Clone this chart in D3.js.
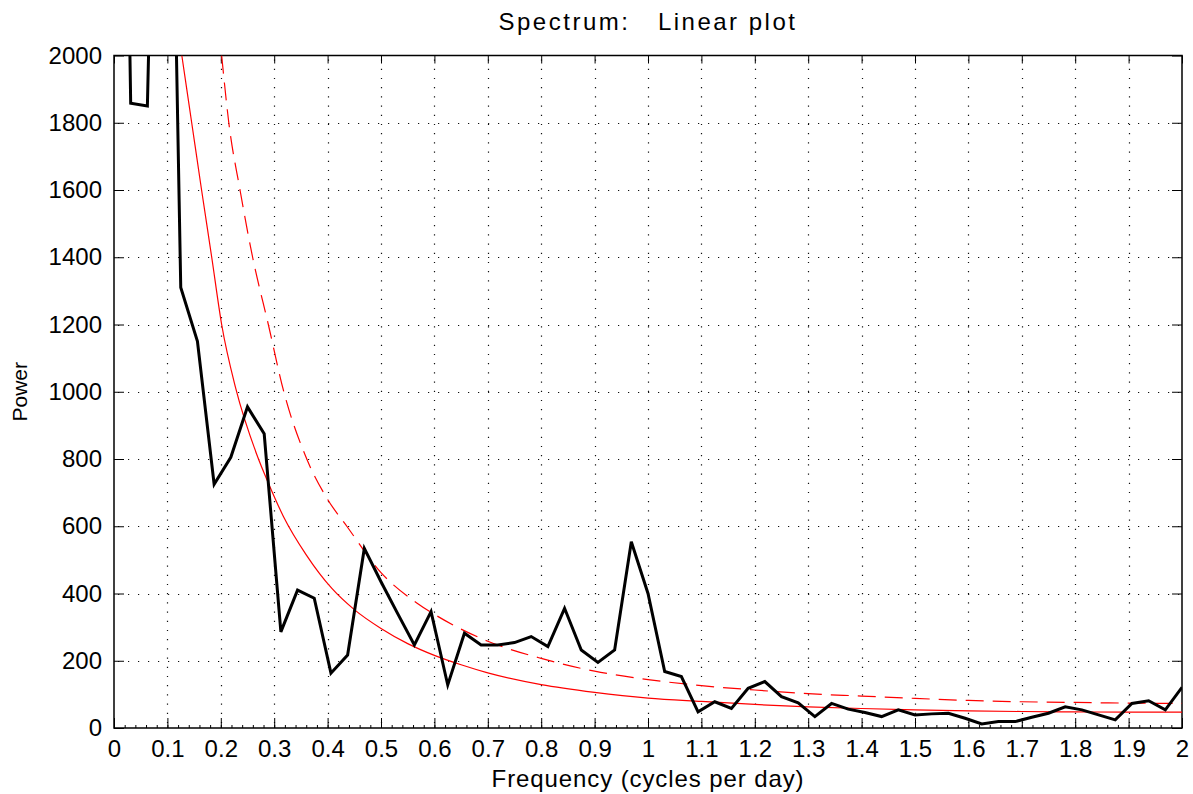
<!DOCTYPE html>
<html>
<head>
<meta charset="utf-8">
<script src="https://cdn.jsdelivr.net/npm/d3@7"></script>
<style>
  body { margin: 0; background: #fff; }
  text { font-family: "Liberation Sans", Arial, sans-serif; fill: #000; }
</style>
</head>
<body>
<svg id="chart" width="1193" height="794"></svg>
<script>
// spectrum estimate, one value per frequency bin (resolution 1/32 cycles per day)
const binWidth = 1 / 32;
const power = [5000, 1858, 1850, 4000, 1310, 1150, 725, 805, 955, 875,
  286, 410, 386, 163, 217, 534, 435, 340, 247, 346,
  128, 282, 247, 247, 254, 272, 242, 356, 232, 195,
  232, 554, 400, 168, 153, 48, 78, 58, 118, 138,
  93, 75, 34, 73, 56, 46, 34, 54, 39, 42,
  44, 29, 12, 19, 19, 32, 44, 63, 54, 39,
  24, 73, 81, 54, 121];
const freq = power.map((d, i) => i * binWidth);

// red-noise background (solid)
const fitFreq = [0.127, 0.1455, 0.164, 0.183, 0.2016, 0.228, 0.267, 0.29, 0.317, 0.36,
  0.408, 0.45, 0.5, 0.55, 0.6, 0.65, 0.7, 0.8, 0.9, 1.0,
  1.1, 1.2, 1.3, 1.4, 1.5, 1.6, 1.7, 1.8, 1.9, 2.0];
const fitPower = [2000, 1800, 1600, 1400, 1200, 1010, 815, 725, 630, 515,
  415, 352, 296, 251, 216, 188, 164, 129, 106, 89,
  79, 70, 63, 58, 54, 51, 49, 48, 47, 47];

// confidence level (dashed)
const confFreq = [0.2016, 0.215, 0.236, 0.2596, 0.289, 0.318, 0.361, 0.4, 0.436, 0.5,
  0.567, 0.6, 0.65, 0.7, 0.8, 0.9, 1.0, 1.1, 1.2, 1.3,
  1.4, 1.5, 1.6, 1.7, 1.8, 1.9, 2.0];
const confPower = [2000, 1800, 1600, 1400, 1200, 1000, 800, 680, 600, 462,
  372, 338, 294, 258, 207, 169, 144, 126, 113, 102,
  95, 88, 82, 78, 76, 74, 73];

const xTicks = [0, 0.1, 0.2, 0.3, 0.4, 0.5, 0.6, 0.7, 0.8, 0.9, 1, 1.1, 1.2, 1.3, 1.4, 1.5, 1.6, 1.7, 1.8, 1.9, 2];
const xTickLabels = ["0", "0.1", "0.2", "0.3", "0.4", "0.5", "0.6", "0.7", "0.8", "0.9", "1",
  "1.1", "1.2", "1.3", "1.4", "1.5", "1.6", "1.7", "1.8", "1.9", "2"];
const yTicks = [0, 200, 400, 600, 800, 1000, 1200, 1400, 1600, 1800, 2000];

const pLeft = 114, pRight = 1182, pTop = 55.5, pBottom = 728;

const svg = d3.select('#chart');

let x = d3.scaleLinear().domain([0, 2]).range([pLeft, pRight]);
let y = d3.scaleLinear().domain([0, 2000]).range([pBottom, pTop]);

svg.append('defs').append('clipPath').attr('id', 'plotclip')
  .append('rect')
  .attr('x', pLeft).attr('y', pTop)
  .attr('width', pRight - pLeft).attr('height', pBottom - pTop);

// dotted grid
const grid = svg.append('g').attr('stroke', '#111').attr('stroke-width', 1.2);
grid.selectAll('line.vx')
  .data(xTicks.slice(1, -1))
  .enter().append('line')
  .attr('class', 'vx')
  .attr('x1', d => Math.round(x(d)) + 0.5).attr('x2', d => Math.round(x(d)) + 0.5)
  .attr('y1', pTop + 4).attr('y2', pBottom)
  .attr('stroke-dasharray', '1.2,8');
grid.selectAll('line.hy')
  .data(yTicks.slice(1, -1))
  .enter().append('line')
  .attr('class', 'hy')
  .attr('y1', d => Math.round(y(d)) + 0.5).attr('y2', d => Math.round(y(d)) + 0.5)
  .attr('x1', pLeft + 4).attr('x2', pRight)
  .attr('stroke-dasharray', '1.2,8.8');

// axes (ticks pointing inward)
const xAxis = d3.axisBottom(x).tickValues(xTicks)
  .tickFormat((d, i) => xTickLabels[i]).tickSizeInner(-10).tickSizeOuter(0).tickPadding(12);
svg.append('g').attr('transform', `translate(0,${pBottom})`).call(xAxis);

const xMinor = d3.axisBottom(x).tickValues(d3.range(0, 101).map(i => i * 0.02))
  .tickFormat('').tickSizeInner(-3).tickSizeOuter(0);
svg.append('g').attr('transform', `translate(0,${pBottom})`).call(xMinor);

svg.append('g').attr('transform', `translate(0,${pTop})`)
  .call(d3.axisTop(x).tickValues(xTicks).tickFormat('').tickSizeInner(-8).tickSizeOuter(0));

const yAxis = d3.axisLeft(y).tickValues(yTicks).tickFormat(d3.format('d'))
  .tickSizeInner(-10).tickSizeOuter(0).tickPadding(12);
svg.append('g').attr('transform', `translate(${pLeft},0)`).call(yAxis);

svg.append('g').attr('transform', `translate(${pRight},0)`)
  .call(d3.axisRight(y).tickValues(yTicks).tickFormat('').tickSizeInner(-10).tickSizeOuter(0));

svg.selectAll('.domain').remove();
svg.selectAll('.tick line').attr('stroke', '#000');
svg.selectAll('.tick text').attr('font-size', 24).attr('font-family', '"Liberation Sans", Arial, sans-serif').attr('fill', '#000');

// frame
svg.append('rect')
  .attr('x', pLeft).attr('y', pTop)
  .attr('width', pRight - pLeft).attr('height', pBottom - pTop)
  .attr('fill', 'none').attr('stroke', '#000').attr('stroke-width', 1.5);

const plot = svg.append('g').attr('clip-path', 'url(#plotclip)');

const fitLine = d3.line().x(d => x(d[0])).y(d => y(d[1])).curve(d3.curveMonotoneX);

plot.append('path')
  .datum(d3.zip(fitFreq, fitPower))
  .attr('d', fitLine)
  .attr('fill', 'none').attr('stroke', '#ff0000').attr('stroke-width', 1.2);

plot.append('path')
  .datum(d3.zip(confFreq, confPower))
  .attr('d', fitLine)
  .attr('fill', 'none').attr('stroke', '#ff0000').attr('stroke-width', 1.2)
  .attr('stroke-dasharray', '18,9');

plot.append('path')
  .datum(d3.zip(freq, power))
  .attr('d', d3.line().x(d => x(d[0])).y(d => y(d[1])))
  .attr('fill', 'none').attr('stroke', '#000').attr('stroke-width', 3)
  .attr('stroke-linejoin', 'miter');

// labels
svg.append('text')
  .attr('x', (pLeft + pRight) / 2).attr('y', 30)
  .attr('text-anchor', 'middle').attr('font-size', 24)
  .attr('letter-spacing', 2.5)
  .style('white-space', 'pre')
  .text('Spectrum:   Linear plot');

svg.append('text')
  .attr('x', (pLeft + pRight) / 2).attr('y', 787)
  .attr('text-anchor', 'middle').attr('font-size', 24)
  .attr('letter-spacing', 0.9)
  .text('Frequency (cycles per day)');

svg.append('text')
  .attr('transform', `translate(27,${(pTop + pBottom) / 2}) rotate(-90)`)
  .attr('text-anchor', 'middle').attr('font-size', 21)
  .text('Power');
</script>
</body>
</html>
